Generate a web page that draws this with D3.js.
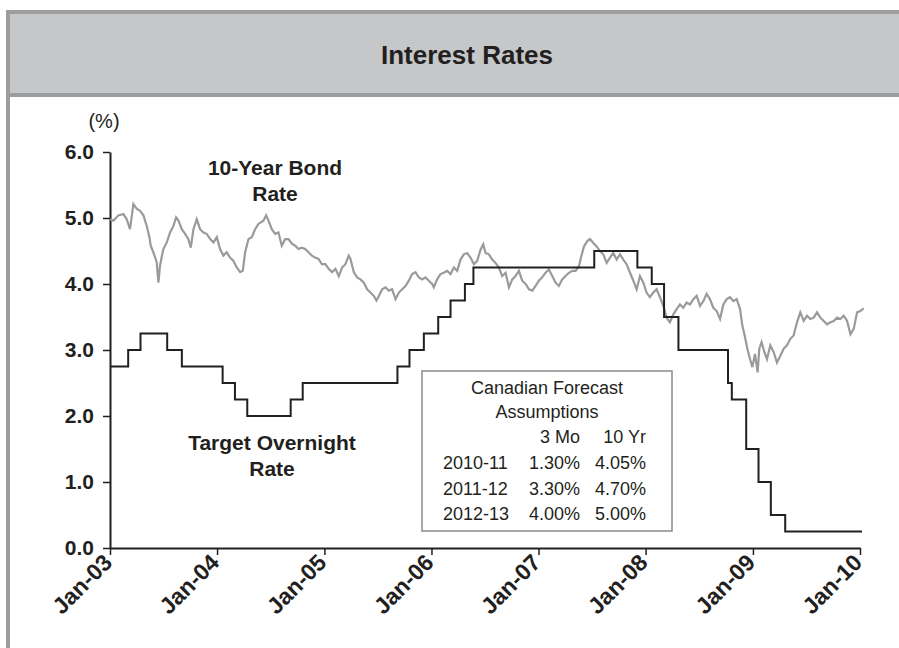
<!DOCTYPE html>
<html>
<head>
<meta charset="utf-8">
<script src="https://cdn.jsdelivr.net/npm/d3@7"></script>
<style>
  body { margin: 0; background: #fff; }
  svg { display: block; font-family: "Liberation Sans", Arial, sans-serif; }
</style>
</head>
<body>
<div id="chart"></div>
<script>
// Bank of Canada target overnight rate (date it took effect, %)
var targetDates = ["2003-01-01","2003-03-04","2003-04-15","2003-07-15","2003-09-03","2004-01-20","2004-03-02","2004-04-13","2004-09-08","2004-10-19","2005-09-07","2005-10-18","2005-12-06","2006-01-24","2006-03-07","2006-04-25","2006-05-24","2007-07-10","2007-12-04","2008-01-22","2008-03-04","2008-04-22","2008-10-08","2008-10-21","2008-12-09","2009-01-20","2009-03-03","2009-04-21","2010-01-08"];
var targetRates = [2.75,3.00,3.25,3.00,2.75,2.50,2.25,2.00,2.25,2.50,2.75,3.00,3.25,3.50,3.75,4.00,4.25,4.50,4.25,4.00,3.50,3.00,2.50,2.25,1.50,1.00,0.50,0.25,0.25];

// 10-year bond rate (decimal year, %)
var bondYears = [2003.000,2003.031,2003.078,2003.125,2003.156,2003.187,2003.218,2003.249,2003.280,2003.312,2003.343,2003.368,2003.380,2003.405,2003.436,2003.452,2003.467,2003.498,2003.530,2003.561,2003.592,2003.617,2003.639,2003.670,2003.701,2003.732,2003.754,2003.779,2003.810,2003.841,2003.872,2003.903,2003.935,2003.966,2003.997,2004.028,2004.059,2004.090,2004.121,2004.153,2004.184,2004.215,2004.240,2004.262,2004.293,2004.324,2004.355,2004.386,2004.433,2004.458,2004.480,2004.511,2004.542,2004.573,2004.604,2004.636,2004.667,2004.698,2004.729,2004.760,2004.791,2004.822,2004.854,2004.885,2004.916,2004.947,2004.978,2005.009,2005.040,2005.072,2005.103,2005.134,2005.165,2005.196,2005.227,2005.243,2005.274,2005.305,2005.336,2005.368,2005.399,2005.430,2005.461,2005.486,2005.508,2005.539,2005.570,2005.601,2005.632,2005.664,2005.695,2005.726,2005.757,2005.788,2005.819,2005.850,2005.882,2005.913,2005.944,2005.975,2006.006,2006.022,2006.053,2006.084,2006.115,2006.146,2006.178,2006.209,2006.240,2006.271,2006.302,2006.333,2006.364,2006.396,2006.427,2006.458,2006.483,2006.505,2006.536,2006.567,2006.598,2006.629,2006.660,2006.692,2006.723,2006.754,2006.785,2006.816,2006.847,2006.879,2006.910,2006.941,2006.972,2007.003,2007.034,2007.065,2007.097,2007.128,2007.159,2007.190,2007.221,2007.252,2007.283,2007.315,2007.346,2007.377,2007.399,2007.424,2007.455,2007.480,2007.511,2007.542,2007.573,2007.604,2007.636,2007.667,2007.698,2007.729,2007.760,2007.791,2007.822,2007.854,2007.885,2007.916,2007.947,2007.978,2008.009,2008.040,2008.072,2008.103,2008.134,2008.165,2008.196,2008.227,2008.259,2008.290,2008.321,2008.352,2008.383,2008.414,2008.446,2008.477,2008.508,2008.539,2008.570,2008.601,2008.632,2008.664,2008.695,2008.726,2008.757,2008.788,2008.819,2008.850,2008.882,2008.903,2008.925,2008.950,2008.975,2008.997,2009.019,2009.044,2009.059,2009.081,2009.106,2009.131,2009.162,2009.193,2009.224,2009.255,2009.287,2009.318,2009.349,2009.380,2009.411,2009.442,2009.474,2009.505,2009.536,2009.567,2009.598,2009.629,2009.660,2009.692,2009.723,2009.754,2009.785,2009.816,2009.847,2009.879,2009.910,2009.941,2009.972,2010.003,2010.034];
var bondRates = [4.98,4.96,5.04,5.06,4.98,4.83,5.21,5.14,5.11,5.04,4.88,4.71,4.58,4.48,4.33,4.02,4.28,4.53,4.63,4.78,4.88,5.01,4.96,4.83,4.76,4.68,4.55,4.83,4.98,4.83,4.78,4.76,4.68,4.63,4.71,4.53,4.43,4.48,4.40,4.35,4.25,4.18,4.20,4.48,4.68,4.71,4.83,4.91,4.96,5.04,4.96,4.83,4.76,4.78,4.58,4.68,4.68,4.61,4.58,4.53,4.55,4.53,4.48,4.43,4.40,4.38,4.30,4.30,4.23,4.18,4.23,4.12,4.25,4.30,4.43,4.38,4.18,4.10,4.07,4.02,3.92,3.87,3.82,3.75,3.82,3.92,3.95,3.90,3.92,3.77,3.87,3.92,3.97,4.05,4.15,4.18,4.10,4.07,4.10,4.05,4.00,3.95,4.07,4.15,4.17,4.20,4.15,4.25,4.20,4.37,4.45,4.47,4.40,4.30,4.35,4.52,4.60,4.47,4.45,4.37,4.32,4.25,4.12,4.17,3.95,4.07,4.12,4.20,4.05,4.00,3.92,3.90,3.97,4.05,4.10,4.17,4.22,4.12,4.02,3.97,4.07,4.12,4.17,4.20,4.20,4.27,4.42,4.57,4.65,4.68,4.62,4.57,4.50,4.45,4.32,4.40,4.47,4.37,4.45,4.37,4.30,4.17,4.05,3.92,4.12,4.02,3.87,3.80,3.87,3.92,3.80,3.67,3.49,3.42,3.54,3.62,3.69,3.64,3.72,3.69,3.77,3.82,3.67,3.74,3.85,3.77,3.64,3.59,3.47,3.69,3.77,3.80,3.74,3.77,3.62,3.37,3.22,3.02,2.86,2.74,2.94,2.66,3.02,3.12,2.97,2.86,3.07,2.97,2.81,2.91,3.02,3.07,3.17,3.22,3.42,3.57,3.44,3.52,3.47,3.49,3.57,3.49,3.44,3.39,3.42,3.44,3.49,3.47,3.52,3.44,3.24,3.32,3.57,3.59,3.63];

var yTicks = [0, 1, 2, 3, 4, 5, 6];
var xTickYears = [2003, 2004, 2005, 2006, 2007, 2008, 2009, 2010];

var legendTitle = ["Canadian Forecast", "Assumptions"];
var legendHeads = ["3 Mo", "10 Yr"];
var legendYears = ["2010-11", "2011-12", "2012-13"];
var legend3Mo = ["1.30%", "3.30%", "4.00%"];
var legend10Yr = ["4.05%", "4.70%", "5.00%"];

var W = 899, H = 648;
var svg = d3.select('#chart').append('svg').attr('width', W).attr('height', H);

// frame and header band
var frameCol = '#9c9d9f';
svg.append('rect').attr('x', 8).attr('y', 12).attr('width', W).attr('height', 83)
    .attr('fill', '#c6c7c9').attr('stroke', frameCol).attr('stroke-width', 4);
svg.append('line').attr('x1', 8).attr('x2', 8).attr('y1', 95).attr('y2', H)
    .attr('stroke', frameCol).attr('stroke-width', 4);

svg.append('text')
    .attr('x', 467).attr('y', 64)
    .attr('text-anchor', 'middle')
    .style('font-weight', 'bold').style('font-size', '26px').attr('fill', '#231f20')
    .text('Interest Rates');

var parse = d3.utcParse('%Y-%m-%d');
var yearToDate = (y) => new Date(Date.UTC(Math.floor(y), 0, 1) + (y - Math.floor(y)) * 365.25 * 864e5);

var target = targetDates.map((d, i) => ({ date: parse(d), value: targetRates[i] }));
var bond = bondYears.map((y, i) => ({ date: yearToDate(y), value: bondRates[i] }));

var x = d3.scaleUtc()
    .domain([new Date(Date.UTC(2003, 0, 1)), new Date(Date.UTC(2010, 0, 1))])
    .range([110, 860]);
var y = d3.scaleLinear().domain([0, 6]).range([548, 152]);

var ink = '#231f20';

// axes
var yAxis = svg.append('g')
    .attr('transform', 'translate(110,0)')
    .call(d3.axisLeft(y).tickValues(yTicks).tickSize(7).tickSizeOuter(0).tickFormat(d3.format('.1f')));
yAxis.select('.domain').attr('stroke', ink).attr('stroke-width', 2);
yAxis.selectAll('.tick line').attr('stroke', ink).attr('stroke-width', 1.5);
yAxis.selectAll('.tick text')
    .attr('x', -16).attr('fill', ink)
    .style('font-size', '21px').style('font-weight', 'bold').style('font-family', '"Liberation Sans", Arial, sans-serif');

var xAxis = svg.append('g')
    .attr('transform', 'translate(0,' + y(0) + ')')
    .call(d3.axisBottom(x)
        .tickValues(xTickYears.map((yr) => new Date(Date.UTC(yr, 0, 1))))
        .tickSize(7).tickSizeOuter(0)
        .tickFormat(d3.utcFormat('Jan-%y')));
xAxis.select('.domain').attr('stroke', ink).attr('stroke-width', 2);
xAxis.selectAll('.tick line').attr('stroke', ink).attr('stroke-width', 1.5);
xAxis.selectAll('.tick text')
    .attr('text-anchor', 'end')
    .attr('x', null).attr('y', null).attr('dy', null)
    .attr('transform', 'translate(3,16) rotate(-45)')
    .attr('fill', ink)
    .style('font-size', '23px').style('font-weight', 'bold').style('font-family', '"Liberation Sans", Arial, sans-serif');

svg.append('text')
    .attr('x', 104).attr('y', 128)
    .attr('text-anchor', 'middle')
    .style('font-size', '20px').attr('fill', ink)
    .text('(%)');

// series
var line = d3.line().x((d) => x(d.date)).y((d) => y(d.value));

svg.append('path')
    .datum(bond)
    .attr('fill', 'none')
    .attr('stroke', '#999a9c')
    .attr('stroke-width', 2.2)
    .attr('d', line);

svg.append('path')
    .datum(target)
    .attr('fill', 'none')
    .attr('stroke', ink)
    .attr('stroke-width', 2)
    .attr('d', line.curve(d3.curveStepAfter));

// series labels
var bondLab = svg.append('text').attr('text-anchor', 'middle')
    .style('font-size', '21px').style('font-weight', 'bold').attr('fill', ink);
bondLab.append('tspan').attr('x', 275).attr('y', 175).text('10-Year Bond');
bondLab.append('tspan').attr('x', 275).attr('y', 201).text('Rate');

var targLab = svg.append('text').attr('text-anchor', 'middle')
    .style('font-size', '21px').style('font-weight', 'bold').attr('fill', ink);
targLab.append('tspan').attr('x', 272).attr('y', 450).text('Target Overnight');
targLab.append('tspan').attr('x', 272).attr('y', 476).text('Rate');

// forecast box
var box = svg.append('g');
box.append('rect')
    .attr('x', 422).attr('y', 371).attr('width', 250).attr('height', 160)
    .attr('fill', '#fff').attr('stroke', '#8a8b8d').attr('stroke-width', 1.5);

var rowY = [394, 418, 443, 469, 495, 520];
box.selectAll('.ttl').data(legendTitle).enter().append('text')
    .attr('x', 547).attr('y', (d, i) => rowY[i])
    .attr('text-anchor', 'middle')
    .style('font-size', '18px').attr('fill', ink)
    .text((d) => d);

box.selectAll('.hd').data(legendHeads).enter().append('text')
    .attr('x', (d, i) => i === 0 ? 580 : 646).attr('y', rowY[2])
    .attr('text-anchor', 'end')
    .style('font-size', '18px').attr('fill', ink)
    .text((d) => d);

legendYears.forEach(function (yr, i) {
    var ry = rowY[3 + i];
    box.append('text').attr('x', 443).attr('y', ry)
        .style('font-size', '18px').attr('fill', ink).text(yr);
    box.append('text').attr('x', 580).attr('y', ry).attr('text-anchor', 'end')
        .style('font-size', '18px').attr('fill', ink).text(legend3Mo[i]);
    box.append('text').attr('x', 646).attr('y', ry).attr('text-anchor', 'end')
        .style('font-size', '18px').attr('fill', ink).text(legend10Yr[i]);
});
</script>
</body>
</html>
